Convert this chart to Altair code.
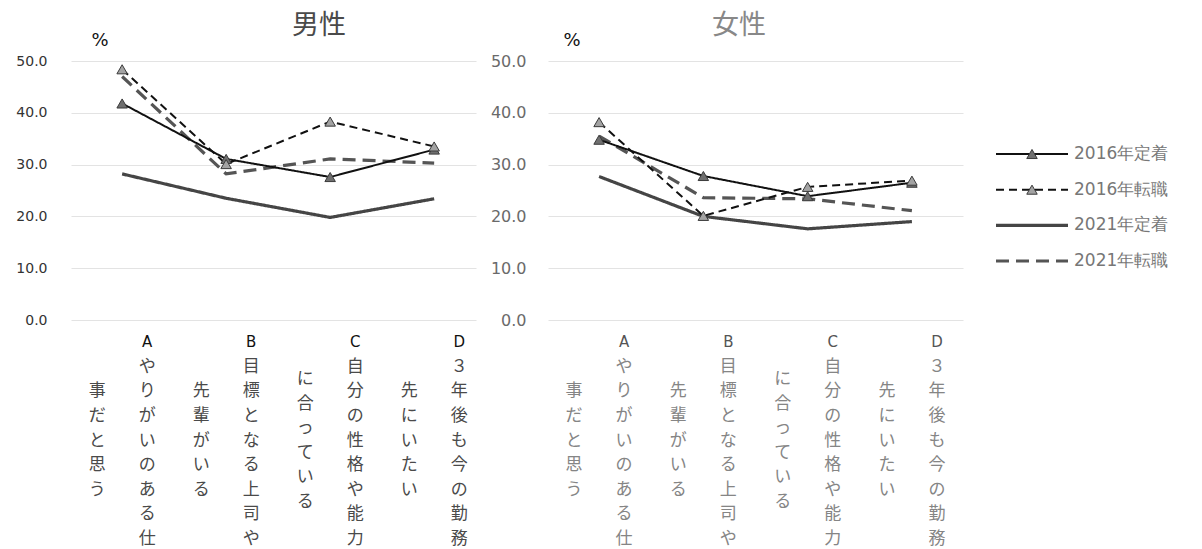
import altair as alt
import pandas as pd

# Survey items (x categories) and the four respondent groups
categories = ["A", "B", "C", "D"]
series_names = ["2016年定着", "2016年転職", "2021年定着", "2021年転職"]

# Item labels, written vertically under each category (9 characters per column)
item_labels = [
    "Aやりがいのある仕事だと思う",
    "B目標となる上司や先輩がいる",
    "C自分の性格や能力に合っている",
    "D３年後も今の勤務先にいたい",
]

# Percentages, men
men_2016_stay = [41.8, 31.1, 27.6, 32.9]
men_2016_move = [48.4, 30.1, 38.3, 33.5]
men_2021_stay = [28.2, 23.5, 19.8, 23.4]
men_2021_move = [47.0, 28.2, 31.1, 30.3]

# Percentages, women
women_2016_stay = [34.8, 27.8, 23.9, 26.5]
women_2016_move = [38.2, 20.1, 25.7, 26.9]
women_2021_stay = [27.7, 20.0, 17.6, 19.0]
women_2021_move = [35.5, 23.6, 23.4, 21.1]

y_ticks = [0, 10, 20, 30, 40, 50]

# Line style of each series: (stroke colour, dash, width, triangle fill or None)
styles = {
    "2016年定着": ("#111111", [1, 0], 2.0, "#6f6f6f"),
    "2016年転職": ("#111111", [8, 5], 2.0, "#a3a3a3"),
    "2021年定着": ("#454545", [1, 0], 3.2, None),
    "2021年転職": ("#555555", [13, 7], 3.2, None),
}
draw_order = ["2021年定着", "2021年転職", "2016年定着", "2016年転職"]

JP = "Noto Sans CJK JP"
NUM = "DejaVu Sans"
MARKER_SIZE = 110


def long_table(stay16, move16, stay21, move21):
    rows = []
    for name, vals in zip(series_names, [stay16, move16, stay21, move21]):
        for cat, v in zip(categories, vals):
            rows.append({"series": name, "cat": cat, "value": v})
    return pd.DataFrame(rows)


def label_table(labels):
    # first column holds 9 characters, the rest goes to a second column,
    # vertically centred against the first one
    rows = []
    for cat, text in zip(categories, labels):
        main, rest = text[:9], text[9:]
        for i, ch in enumerate(main):
            rows.append({"cat": cat, "col": 0, "row": i, "ch": ch})
        start = (len(main) - len(rest)) / 2
        for i, ch in enumerate(rest):
            rows.append({"cat": cat, "col": 1, "row": start + i, "ch": ch})
    return pd.DataFrame(rows)


labels_df = label_table(item_labels)


def panel(title, df, width, x_pad, x_align, tone, title_x, pct_x):
    (axis_col, axis_size, axis_pad, letter_col, char_col, title_col) = tone
    x = alt.X("cat:N", scale=alt.Scale(domain=categories, padding=x_pad, align=x_align),
              axis=None)
    y = alt.Y("value:Q", scale=alt.Scale(domain=[0, 50], nice=False),
              axis=alt.Axis(values=y_ticks, format=".1f", grid=True, gridColor="#e3e3e3",
                            gridWidth=1, domain=False, ticks=False, labelPadding=axis_pad,
                            labelFont=NUM, labelFontSize=axis_size, labelColor=axis_col),
              title=None)

    # series lines and triangle markers, sharing one value scale
    data_layers = []
    for name in draw_order:
        col, dash, w, _ = styles[name]
        data_layers.append(
            alt.Chart(df).transform_filter(alt.datum.series == name)
            .mark_line(color=col, strokeDash=dash, strokeWidth=w)
            .encode(x=x, y=y)
        )
    for name in series_names:
        col, dash, w, fill = styles[name]
        if fill is None:
            continue
        data_layers.append(
            alt.Chart(df).transform_filter(alt.datum.series == name)
            .mark_point(shape="triangle-up", size=MARKER_SIZE, filled=True, fill=fill,
                        stroke="#3a3a3a", strokeWidth=1, opacity=1)
            .encode(x=x, y=y)
        )
    data = alt.layer(*data_layers)

    # vertical category labels below the plot, title and unit above it
    ly = alt.Y("row:Q", scale=alt.Scale(domain=[0, 8], range=[281, 478]), axis=None)
    text_layers = [
        alt.Chart(labels_df).transform_filter((alt.datum.col == 0) & (alt.datum.row > 0))
        .mark_text(font=JP, fontSize=17, color=char_col, dx=25, baseline="middle")
        .encode(x=x, y=ly, text="ch:N"),
        alt.Chart(labels_df).transform_filter(alt.datum.col == 1)
        .mark_text(font=JP, fontSize=17, color=char_col, dx=-25, baseline="middle")
        .encode(x=x, y=ly, text="ch:N"),
        alt.Chart(labels_df).transform_filter((alt.datum.col == 0) & (alt.datum.row == 0))
        .mark_text(font=NUM, fontSize=15, color=letter_col, dx=25, baseline="middle")
        .encode(x=x, y=ly, text="ch:N"),
    ]
    head = pd.DataFrame({"t": [title], "p": ["%"]})
    text_layers.append(
        alt.Chart(head).mark_text(font=JP, fontSize=27, color=title_col, baseline="middle")
        .encode(text="t:N", x=alt.value(title_x), y=alt.value(-35))
    )
    text_layers.append(
        alt.Chart(head).mark_text(font=NUM, fontSize=18, color="#111111", baseline="middle")
        .encode(text="p:N", x=alt.value(pct_x), y=alt.value(-20))
    )
    texts = alt.layer(*text_layers)

    return (alt.layer(data, texts).resolve_scale(y="independent")
            .properties(width=width, height=259))


men = panel("男性", long_table(men_2016_stay, men_2016_move, men_2021_stay, men_2021_move),
            405, 0.447, 0.55, ("#333333", 14, 24, "#111111", "#4a4a4a", "#4a4a4a"), 248, 29)
women = panel("女性", long_table(women_2016_stay, women_2016_move, women_2021_stay, women_2021_move),
              415, 0.49, 0.5, ("#6a6a6a", 16, 22, "#555555", "#858585", "#888888"), 191, 24)

# Legend drawn as its own small panel: line sample, triangle marker, name.
# Panels are spaced 72px apart, so the legend content is pulled back to the left.
LEG_X0 = -39
legend_df = pd.DataFrame({"series": series_names})
leg_y = alt.Y("series:N", scale=alt.Scale(type="point", domain=series_names, range=[93, 200],
                                          padding=0), axis=None)
leg_layers = []
for name in series_names:
    col, dash, w, fill = styles[name]
    base = alt.Chart(legend_df).transform_filter(alt.datum.series == name)
    leg_layers.append(
        base.mark_rule(color=col, strokeDash=dash, strokeWidth=w)
        .encode(x=alt.value(LEG_X0), x2=alt.value(LEG_X0 + 72), y=leg_y)
    )
    if fill is not None:
        leg_layers.append(
            base.mark_point(shape="triangle-up", size=MARKER_SIZE, filled=True, fill=fill,
                            stroke="#3a3a3a", strokeWidth=1, opacity=1)
            .encode(x=alt.value(LEG_X0 + 36), y=leg_y)
        )
leg_layers.append(
    alt.Chart(legend_df).mark_text(font=NUM, fontSize=17, color="#777777", align="left",
                                   baseline="middle")
    .encode(x=alt.value(LEG_X0 + 78), y=leg_y, text="series:N")
)
legend = alt.layer(*leg_layers).properties(width=130, height=259)

chart = (
    alt.hconcat(men, women, legend, spacing=72, bounds="flush")
    .properties(padding={"left": 15, "top": 12, "right": 0, "bottom": 4}, background="white")
    .configure_view(stroke=None)
)

chart.save("out.html", embed_options={"renderer": "svg", "actions": False})
